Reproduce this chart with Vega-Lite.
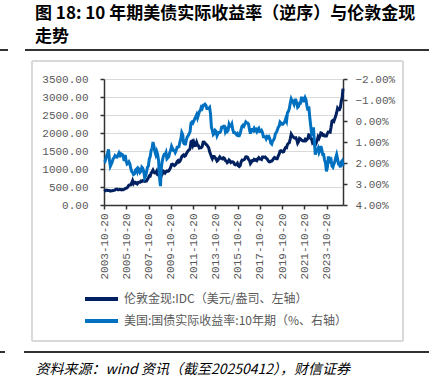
{
"$schema": "https://vega.github.io/schema/vega-lite/v6.json",
"width": 239,
"height": 126,
"autosize": {"type": "none"},
"padding": {"left": 104, "top": 79, "right": 86, "bottom": 179},
"background": "white",
"title": {"text": ["图 18: 10 年期美债实际收益率（逆序）与伦敦金现", "走势"], "anchor": "start", "frame": "group", "dx": -69, "offset": 3, "font": "Noto Sans CJK SC", "fontSize": 17, "fontWeight": "bold", "color": "#000000", "lineHeight": 23},
"config": {"view": {"stroke": null}, "axis": {"labelOverlap": false, "labelSeparation": 0}},
"data": {"values": [
{"date":"2003-10-20","gold":380,"ry":1.95},{"date":"2003-11-15","gold":392,"ry":1.95},{"date":"2003-12-15","gold":407,"ry":1.82},
{"date":"2004-01-15","gold":414,"ry":1.65},{"date":"2004-02-15","gold":405,"ry":1.55},{"date":"2004-03-15","gold":406,"ry":1.35},{"date":"2004-04-15","gold":404,"ry":1.85},{"date":"2004-05-15","gold":384,"ry":2.15},{"date":"2004-06-15","gold":392,"ry":2.05},{"date":"2004-07-15","gold":398,"ry":1.95},{"date":"2004-08-15","gold":400,"ry":1.8},{"date":"2004-09-15","gold":405,"ry":1.75},{"date":"2004-10-15","gold":420,"ry":1.65},{"date":"2004-11-15","gold":439,"ry":1.7},{"date":"2004-12-15","gold":442,"ry":1.72},
{"date":"2005-01-15","gold":424,"ry":1.65},{"date":"2005-02-15","gold":423,"ry":1.55},{"date":"2005-03-15","gold":434,"ry":1.72},{"date":"2005-04-15","gold":429,"ry":1.55},{"date":"2005-05-15","gold":421,"ry":1.58},{"date":"2005-06-15","gold":430,"ry":1.6},{"date":"2005-07-15","gold":424,"ry":1.72},{"date":"2005-08-15","gold":438,"ry":1.9},{"date":"2005-09-15","gold":456,"ry":1.62},{"date":"2005-10-15","gold":470,"ry":1.9},{"date":"2005-11-15","gold":476,"ry":2.05},{"date":"2005-12-15","gold":510,"ry":2.02},
{"date":"2006-01-15","gold":550,"ry":1.95},{"date":"2006-02-15","gold":555,"ry":2.05},{"date":"2006-03-15","gold":557,"ry":2.25},{"date":"2006-04-15","gold":610,"ry":2.4},{"date":"2006-05-15","gold":676,"ry":2.45},{"date":"2006-06-15","gold":596,"ry":2.55},{"date":"2006-07-15","gold":633,"ry":2.52},{"date":"2006-08-15","gold":632,"ry":2.35},{"date":"2006-09-15","gold":598,"ry":2.3},{"date":"2006-10-15","gold":585,"ry":2.42},{"date":"2006-11-15","gold":627,"ry":2.25},{"date":"2006-12-15","gold":629,"ry":2.3},
{"date":"2007-01-15","gold":631,"ry":2.45},{"date":"2007-02-15","gold":665,"ry":2.4},{"date":"2007-03-15","gold":655,"ry":2.2},{"date":"2007-04-15","gold":679,"ry":2.25},{"date":"2007-05-15","gold":667,"ry":2.4},{"date":"2007-06-15","gold":655,"ry":2.7},{"date":"2007-07-15","gold":665,"ry":2.62},{"date":"2007-08-15","gold":665,"ry":2.45},{"date":"2007-09-15","gold":712,"ry":2.2},{"date":"2007-10-15","gold":754,"ry":2.15},{"date":"2007-11-15","gold":806,"ry":1.8},{"date":"2007-12-15","gold":803,"ry":1.7},
{"date":"2008-01-15","gold":889,"ry":1.4},{"date":"2008-02-15","gold":922,"ry":1.3},{"date":"2008-03-15","gold":968,"ry":1.0},{"date":"2008-04-15","gold":909,"ry":1.2},{"date":"2008-05-15","gold":888,"ry":1.45},{"date":"2008-06-15","gold":889,"ry":1.6},{"date":"2008-07-15","gold":940,"ry":1.45},{"date":"2008-08-15","gold":839,"ry":1.6},{"date":"2008-09-15","gold":829,"ry":1.9},{"date":"2008-10-15","gold":806,"ry":2.7},{"date":"2008-11-15","gold":760,"ry":3.1},{"date":"2008-12-15","gold":816,"ry":2.2},
{"date":"2009-01-15","gold":858,"ry":1.9},{"date":"2009-02-15","gold":943,"ry":1.7},{"date":"2009-03-15","gold":924,"ry":1.6},{"date":"2009-04-15","gold":890,"ry":1.6},{"date":"2009-05-15","gold":928,"ry":1.5},{"date":"2009-06-15","gold":946,"ry":1.8},{"date":"2009-07-15","gold":934,"ry":1.75},{"date":"2009-08-15","gold":949,"ry":1.7},{"date":"2009-09-15","gold":996,"ry":1.5},{"date":"2009-10-15","gold":1043,"ry":1.4},{"date":"2009-11-15","gold":1127,"ry":1.2},{"date":"2009-12-15","gold":1135,"ry":1.3},
{"date":"2010-01-15","gold":1118,"ry":1.4},{"date":"2010-02-15","gold":1095,"ry":1.4},{"date":"2010-03-15","gold":1113,"ry":1.5},{"date":"2010-04-15","gold":1148,"ry":1.4},{"date":"2010-05-15","gold":1205,"ry":1.25},{"date":"2010-06-15","gold":1232,"ry":1.25},{"date":"2010-07-15","gold":1193,"ry":1.22},{"date":"2010-08-15","gold":1215,"ry":1.0},{"date":"2010-09-15","gold":1271,"ry":0.85},{"date":"2010-10-15","gold":1343,"ry":0.55},{"date":"2010-11-15","gold":1370,"ry":0.65},{"date":"2010-12-15","gold":1391,"ry":1.05},
{"date":"2011-01-15","gold":1356,"ry":1.1},{"date":"2011-02-15","gold":1372,"ry":1.1},{"date":"2011-03-15","gold":1424,"ry":0.9},{"date":"2011-04-15","gold":1473,"ry":0.75},{"date":"2011-05-15","gold":1510,"ry":0.7},{"date":"2011-06-15","gold":1529,"ry":0.6},{"date":"2011-07-15","gold":1572,"ry":0.5},{"date":"2011-08-15","gold":1756,"ry":0.1},{"date":"2011-09-15","gold":1772,"ry":0.05},{"date":"2011-10-15","gold":1665,"ry":0.1},{"date":"2011-11-15","gold":1739,"ry":0.0},{"date":"2011-12-15","gold":1652,"ry":-0.1},
{"date":"2012-01-15","gold":1656,"ry":-0.2},{"date":"2012-02-15","gold":1743,"ry":-0.3},{"date":"2012-03-15","gold":1674,"ry":-0.15},{"date":"2012-04-15","gold":1650,"ry":-0.3},{"date":"2012-05-15","gold":1585,"ry":-0.45},{"date":"2012-06-15","gold":1596,"ry":-0.5},{"date":"2012-07-15","gold":1594,"ry":-0.65},{"date":"2012-08-15","gold":1626,"ry":-0.6},{"date":"2012-09-15","gold":1745,"ry":-0.75},{"date":"2012-10-15","gold":1747,"ry":-0.75},{"date":"2012-11-15","gold":1722,"ry":-0.8},{"date":"2012-12-15","gold":1685,"ry":-0.75},
{"date":"2013-01-15","gold":1671,"ry":-0.6},{"date":"2013-02-15","gold":1627,"ry":-0.6},{"date":"2013-03-15","gold":1593,"ry":-0.6},{"date":"2013-04-15","gold":1487,"ry":-0.65},{"date":"2013-05-15","gold":1414,"ry":-0.35},{"date":"2013-06-15","gold":1343,"ry":0.3},{"date":"2013-07-15","gold":1286,"ry":0.45},{"date":"2013-08-15","gold":1348,"ry":0.65},{"date":"2013-09-15","gold":1348,"ry":0.6},{"date":"2013-10-15","gold":1316,"ry":0.45},{"date":"2013-11-15","gold":1276,"ry":0.5},{"date":"2013-12-15","gold":1222,"ry":0.7},
{"date":"2014-01-15","gold":1244,"ry":0.6},{"date":"2014-02-15","gold":1301,"ry":0.55},{"date":"2014-03-15","gold":1336,"ry":0.55},{"date":"2014-04-15","gold":1299,"ry":0.5},{"date":"2014-05-15","gold":1288,"ry":0.3},{"date":"2014-06-15","gold":1279,"ry":0.3},{"date":"2014-07-15","gold":1311,"ry":0.25},{"date":"2014-08-15","gold":1296,"ry":0.25},{"date":"2014-09-15","gold":1239,"ry":0.5},{"date":"2014-10-15","gold":1222,"ry":0.4},{"date":"2014-11-15","gold":1176,"ry":0.5},{"date":"2014-12-15","gold":1201,"ry":0.45},
{"date":"2015-01-15","gold":1251,"ry":0.15},{"date":"2015-02-15","gold":1227,"ry":0.25},{"date":"2015-03-15","gold":1179,"ry":0.25},{"date":"2015-04-15","gold":1198,"ry":0.15},{"date":"2015-05-15","gold":1199,"ry":0.4},{"date":"2015-06-15","gold":1181,"ry":0.55},{"date":"2015-07-15","gold":1131,"ry":0.55},{"date":"2015-08-15","gold":1117,"ry":0.6},{"date":"2015-09-15","gold":1125,"ry":0.65},{"date":"2015-10-15","gold":1159,"ry":0.6},{"date":"2015-11-15","gold":1086,"ry":0.7},{"date":"2015-12-15","gold":1068,"ry":0.7},
{"date":"2016-01-15","gold":1097,"ry":0.6},{"date":"2016-02-15","gold":1199,"ry":0.4},{"date":"2016-03-15","gold":1246,"ry":0.25},{"date":"2016-04-15","gold":1242,"ry":0.2},{"date":"2016-05-15","gold":1260,"ry":0.25},{"date":"2016-06-15","gold":1276,"ry":0.15},{"date":"2016-07-15","gold":1337,"ry":0.05},{"date":"2016-08-15","gold":1341,"ry":0.1},{"date":"2016-09-15","gold":1326,"ry":0.1},{"date":"2016-10-15","gold":1266,"ry":0.15},{"date":"2016-11-15","gold":1238,"ry":0.4},{"date":"2016-12-15","gold":1152,"ry":0.6},
{"date":"2017-01-15","gold":1192,"ry":0.4},{"date":"2017-02-15","gold":1234,"ry":0.4},{"date":"2017-03-15","gold":1231,"ry":0.45},{"date":"2017-04-15","gold":1266,"ry":0.35},{"date":"2017-05-15","gold":1246,"ry":0.45},{"date":"2017-06-15","gold":1260,"ry":0.4},{"date":"2017-07-15","gold":1236,"ry":0.5},{"date":"2017-08-15","gold":1283,"ry":0.4},{"date":"2017-09-15","gold":1315,"ry":0.35},{"date":"2017-10-15","gold":1280,"ry":0.5},{"date":"2017-11-15","gold":1282,"ry":0.5},{"date":"2017-12-15","gold":1265,"ry":0.45},
{"date":"2018-01-15","gold":1331,"ry":0.55},{"date":"2018-02-15","gold":1331,"ry":0.75},{"date":"2018-03-15","gold":1325,"ry":0.75},{"date":"2018-04-15","gold":1335,"ry":0.75},{"date":"2018-05-15","gold":1303,"ry":0.85},{"date":"2018-06-15","gold":1282,"ry":0.75},{"date":"2018-07-15","gold":1238,"ry":0.8},{"date":"2018-08-15","gold":1202,"ry":0.75},{"date":"2018-09-15","gold":1198,"ry":0.85},{"date":"2018-10-15","gold":1215,"ry":1.05},{"date":"2018-11-15","gold":1221,"ry":1.1},{"date":"2018-12-15","gold":1250,"ry":0.95},
{"date":"2019-01-15","gold":1292,"ry":0.9},{"date":"2019-02-15","gold":1320,"ry":0.8},{"date":"2019-03-15","gold":1300,"ry":0.6},{"date":"2019-04-15","gold":1286,"ry":0.55},{"date":"2019-05-15","gold":1284,"ry":0.45},{"date":"2019-06-15","gold":1359,"ry":0.3},{"date":"2019-07-15","gold":1413,"ry":0.25},{"date":"2019-08-15","gold":1500,"ry":0.05},{"date":"2019-09-15","gold":1511,"ry":0.1},{"date":"2019-10-15","gold":1495,"ry":0.15},{"date":"2019-11-15","gold":1470,"ry":0.15},{"date":"2019-12-15","gold":1480,"ry":0.1},
{"date":"2020-01-15","gold":1560,"ry":0.05},{"date":"2020-02-15","gold":1597,"ry":-0.1},{"date":"2020-03-15","gold":1592,"ry":0.0},{"date":"2020-04-15","gold":1683,"ry":-0.4},{"date":"2020-05-15","gold":1715,"ry":-0.45},{"date":"2020-06-15","gold":1732,"ry":-0.6},{"date":"2020-07-15","gold":1840,"ry":-0.85},{"date":"2020-08-15","gold":1968,"ry":-1.05},{"date":"2020-09-15","gold":1921,"ry":-0.95},{"date":"2020-10-15","gold":1900,"ry":-0.9},{"date":"2020-11-15","gold":1866,"ry":-0.8},{"date":"2020-12-15","gold":1858,"ry":-1.0},
{"date":"2021-01-15","gold":1867,"ry":-1.0},{"date":"2021-02-15","gold":1808,"ry":-0.85},{"date":"2021-03-15","gold":1718,"ry":-0.65},{"date":"2021-04-15","gold":1760,"ry":-0.7},{"date":"2021-05-15","gold":1850,"ry":-0.85},{"date":"2021-06-15","gold":1834,"ry":-0.85},{"date":"2021-07-15","gold":1807,"ry":-1.1},{"date":"2021-08-15","gold":1785,"ry":-1.1},{"date":"2021-09-15","gold":1775,"ry":-0.95},{"date":"2021-10-15","gold":1777,"ry":-0.95},{"date":"2021-11-15","gold":1821,"ry":-1.1},{"date":"2021-12-15","gold":1790,"ry":-1.0},
{"date":"2022-01-15","gold":1817,"ry":-0.7},{"date":"2022-02-15","gold":1856,"ry":-0.5},{"date":"2022-03-15","gold":1948,"ry":-0.7},{"date":"2022-04-15","gold":1937,"ry":-0.2},{"date":"2022-05-15","gold":1849,"ry":0.2},{"date":"2022-06-15","gold":1837,"ry":0.6},{"date":"2022-07-15","gold":1733,"ry":0.5},{"date":"2022-08-15","gold":1764,"ry":0.3},{"date":"2022-09-15","gold":1681,"ry":1.0},{"date":"2022-10-15","gold":1664,"ry":1.6},{"date":"2022-11-15","gold":1726,"ry":1.4},{"date":"2022-12-15","gold":1798,"ry":1.4},
{"date":"2023-01-15","gold":1898,"ry":1.3},{"date":"2023-02-15","gold":1855,"ry":1.5},{"date":"2023-03-15","gold":1913,"ry":1.4},{"date":"2023-04-15","gold":2000,"ry":1.2},{"date":"2023-05-15","gold":1991,"ry":1.35},{"date":"2023-06-15","gold":1942,"ry":1.6},{"date":"2023-07-15","gold":1951,"ry":1.6},{"date":"2023-08-15","gold":1918,"ry":1.85},{"date":"2023-09-15","gold":1916,"ry":2.0},{"date":"2023-10-15","gold":1916,"ry":2.4},{"date":"2023-11-15","gold":1985,"ry":2.2},{"date":"2023-12-15","gold":2031,"ry":1.75},
{"date":"2024-01-15","gold":2034,"ry":1.75},{"date":"2024-02-15","gold":2023,"ry":1.9},{"date":"2024-03-15","gold":2158,"ry":1.85},{"date":"2024-04-15","gold":2331,"ry":2.15},{"date":"2024-05-15","gold":2351,"ry":2.2},{"date":"2024-06-15","gold":2326,"ry":2.05},{"date":"2024-07-15","gold":2398,"ry":1.95},{"date":"2024-08-15","gold":2470,"ry":1.75},{"date":"2024-09-15","gold":2570,"ry":1.6},{"date":"2024-10-15","gold":2690,"ry":1.8},{"date":"2024-11-15","gold":2651,"ry":2.05},{"date":"2024-12-15","gold":2648,"ry":2.05},
{"date":"2025-01-15","gold":2710,"ry":2.2},{"date":"2025-02-15","gold":2895,"ry":1.95},{"date":"2025-03-15","gold":2983,"ry":1.9},{"date":"2025-04-11","gold":3235,"ry":2.15}
]},
"layer": [
{"layer": [
 {"mark": {"type": "rect", "fill": null, "stroke": "#d9d9d9", "strokeWidth": 1},
  "encoding": {
   "x": {"datum": {"year": 1997, "month": 5, "date": 1}, "type": "temporal"},
   "x2": {"datum": {"year": 2030, "month": 9, "date": 1}},
   "y": {"datum": 4000, "type": "quantitative"},
   "y2": {"datum": -3778}}},
 {"mark": {"type": "rule", "stroke": "#333333", "strokeWidth": 1.5},
  "encoding": {
   "x": {"datum": {"year": 1996, "month": 9, "date": 13}, "type": "temporal"},
   "x2": {"datum": {"year": 2033, "month": 2, "date": 1}},
   "y": {"datum": 4306, "type": "quantitative"}}},
 {"mark": {"type": "rule", "stroke": "#333333", "strokeWidth": 1.5},
  "encoding": {
   "x": {"datum": {"year": 1994, "month": 5, "date": 1}, "type": "temporal"},
   "x2": {"datum": {"year": 1995, "month": 3, "date": 5}},
   "y": {"datum": 4306, "type": "quantitative"}}},
 {"mark": {"type": "rule", "stroke": "#333333", "strokeWidth": 1.5},
  "encoding": {
   "x": {"datum": {"year": 1996, "month": 8, "date": 11}, "type": "temporal"},
   "x2": {"datum": {"year": 2033, "month": 2, "date": 1}},
   "y": {"datum": -4083, "type": "quantitative"}}},
 {"mark": {"type": "rule", "stroke": "#333333", "strokeWidth": 1.5},
  "encoding": {
   "x": {"datum": {"year": 1994, "month": 5, "date": 1}, "type": "temporal"},
   "x2": {"datum": {"year": 1994, "month": 11, "date": 27}},
   "y": {"datum": -4083, "type": "quantitative"}}},
 {"mark": {"type": "line", "strokeWidth": 3, "interpolate": "linear"},
  "encoding": {
   "x": {"field": "date", "type": "temporal",
     "scale": {"domain": [{"year": 2003, "month": 10, "date": 20}, {"year": 2025, "month": 4, "date": 11}], "nice": false},
     "axis": {
       "values": [{"year":2003,"month":10,"date":20},{"year":2005,"month":10,"date":20},{"year":2007,"month":10,"date":20},{"year":2009,"month":10,"date":20},{"year":2011,"month":10,"date":20},{"year":2013,"month":10,"date":20},{"year":2015,"month":10,"date":20},{"year":2017,"month":10,"date":20},{"year":2019,"month":10,"date":20},{"year":2021,"month":10,"date":20},{"year":2023,"month":10,"date":20}],
       "tickCount": 50,
       "labelExpr": "timeFormat(datum.value, '%Y-%m-%d')", "labelAngle": 270, "labelAlign": "right", "labelBaseline": "middle",
       "labelFont": "Liberation Mono", "labelFontSize": 11, "labelColor": "#595959", "labelPadding": 4,
       "tickSize": 4, "tickColor": "#333333", "tickWidth": 1.5, "domainColor": "#333333", "domainWidth": 1.5,
       "grid": false, "labelOverlap": false, "labelFlush": false, "labelBound": false,
       "title": "资料来源：wind 资讯（截至20250412），财信证券",
       "titleFont": "Noto Sans CJK SC", "titleFontSize": 14, "titleFontStyle": "italic", "titleFontWeight": "normal",
       "titleColor": "#000000", "titleAnchor": "start", "titleAlign": "left", "titleBaseline": "alphabetic",
       "titleX": -69, "titleY": 168.5}},
   "y": {"field": "gold", "type": "quantitative",
     "scale": {"domain": [0, 3500], "nice": false, "zero": false},
     "axis": {"orient": "left", "values": [0,500,1000,1500,2000,2500,3000,3500], "tickCount": 50, "labelExpr": "format(datum.value, '.2f')",
       "labelFont": "Liberation Mono", "labelFontSize": 11, "labelColor": "#595959", "labelPadding": 12,
       "labelOverlap": false, "labelBound": false,
       "tickSize": 4, "tickColor": "#333333", "tickWidth": 1.5, "domainColor": "#333333", "domainWidth": 1.5,
       "grid": true, "gridColor": "#d9d9d9", "gridWidth": 1, "title": null}},
   "color": {"datum": "伦敦金现:IDC（美元/盎司、左轴）", "type": "nominal",
     "scale": {"domain": ["伦敦金现:IDC（美元/盎司、左轴）", "美国:国债实际收益率:10年期（%、右轴）"], "range": ["#002060", "#0070C0"]},
     "legend": {"orient": "none", "legendX": -21, "legendY": 209, "direction": "vertical", "columns": 1,
       "title": null, "symbolType": "stroke", "symbolSize": 1089, "symbolStrokeWidth": 4, "clipHeight": 22,
       "rowPadding": 0, "padding": 0, "labelFont": "Noto Sans CJK SC", "labelFontSize": 12, "labelColor": "#595959",
       "labelOffset": 4, "labelLimit": 400}}}}
]},
{"mark": {"type": "line", "strokeWidth": 3, "interpolate": "linear"},
 "encoding": {
  "x": {"field": "date", "type": "temporal"},
  "y": {"field": "ry", "type": "quantitative",
    "scale": {"domain": [-2, 4], "reverse": true, "nice": false, "zero": false},
    "axis": {"orient": "right", "values": [-2,-1,0,1,2,3,4], "tickCount": 50, "labelExpr": "format(datum.value, '.2f') + '%'",
      "labelFont": "Liberation Mono", "labelFontSize": 11, "labelColor": "#595959", "labelPadding": 8,
      "labelOverlap": false, "labelBound": false,
      "tickSize": 4, "tickColor": "#333333", "tickWidth": 1.5, "domainColor": "#333333", "domainWidth": 1.5,
      "grid": false, "title": null}},
  "color": {"datum": "美国:国债实际收益率:10年期（%、右轴）", "type": "nominal"}}}
],
"resolve": {"scale": {"y": "independent"}}
}
